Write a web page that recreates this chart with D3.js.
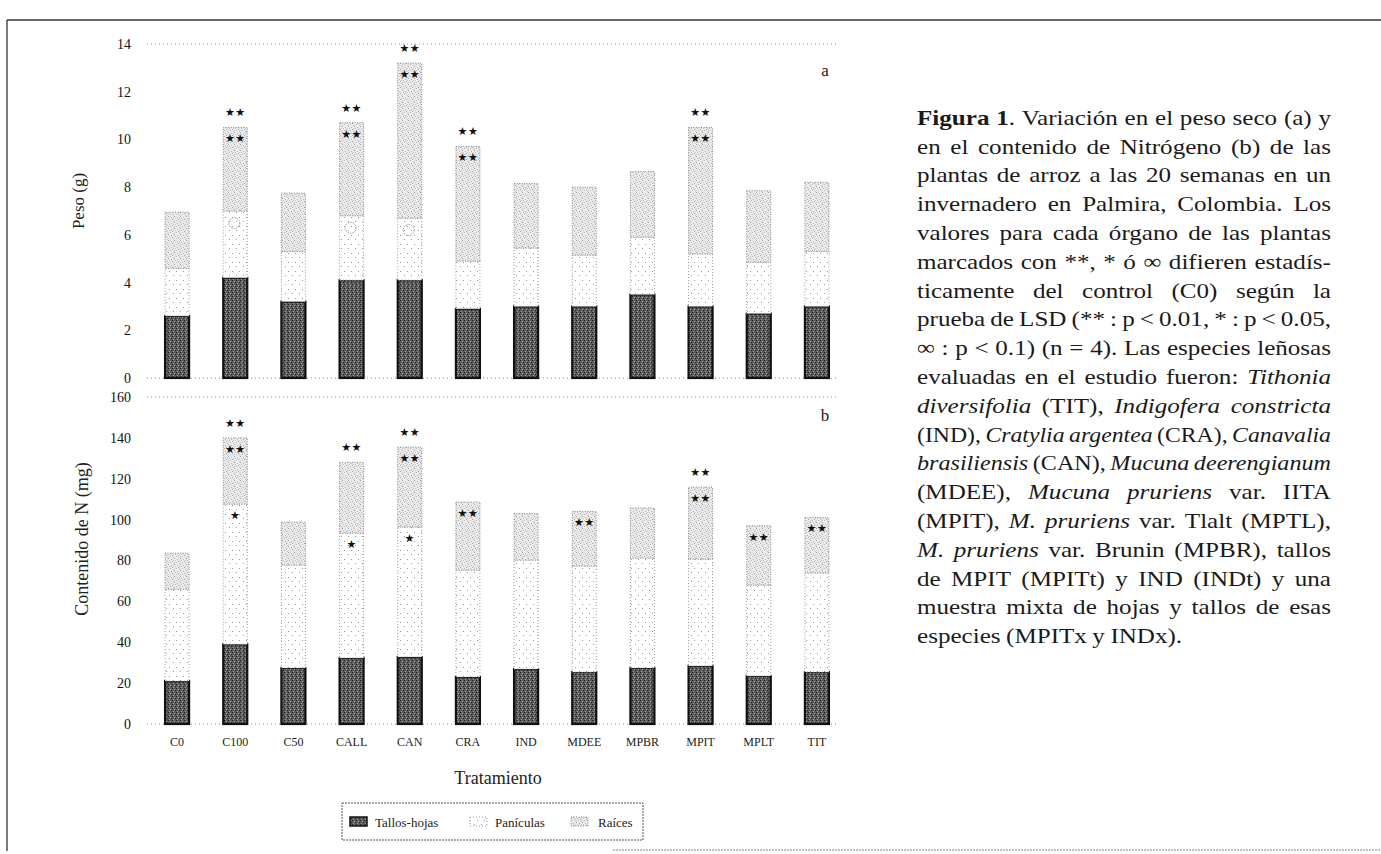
<!DOCTYPE html>
<html><head><meta charset="utf-8">
<script src="https://cdn.jsdelivr.net/npm/d3@7"></script>
<style>
html,body{margin:0;padding:0;background:#fff;}
svg{display:block;}
</style></head>
<body>
<svg id="chart" width="1381" height="854"></svg>
<script>
// ---------------- DATA ----------------
const categories = ["C0","C100","C50","CALL","CAN","CRA","IND","MDEE","MPBR","MPIT","MPLT","TIT"];
const seriesNames = ["Tallos-hojas","Panículas","Raíces"];
// (a) Peso seco (g)
const pesoTallos  = [2.6, 4.2, 3.2, 4.1, 4.1, 2.9, 3.0, 3.0, 3.5, 3.0, 2.7, 3.0];
const pesoPanic   = [2.0, 2.8, 2.1, 2.7, 2.6, 2.0, 2.45, 2.15, 2.4, 2.2, 2.15, 2.3];
const pesoRaices  = [2.35, 3.5, 2.45, 3.9, 6.5, 4.8, 2.7, 2.85, 2.75, 5.3, 3.0, 2.9];
// (b) Contenido de N (mg)
const nTallos  = [21, 39, 27.4, 32.3, 32.8, 23, 26.9, 25.4, 27.4, 28.4, 23.5, 25.4];
const nPanic   = [45, 68.6, 50.4, 61.1, 63.6, 52.3, 53.3, 51.9, 53.8, 52.3, 44.5, 48.5];
const nRaices  = [17.6, 32.4, 21, 34.6, 39.1, 33.3, 22.8, 26.7, 24.5, 35.2, 29, 27.1];
const pesoTicks = [0,2,4,6,8,10,12,14];
const nTicks = [0,20,40,60,80,100,120,140,160];
// significance marks: [category, position ("top" or segment index), symbol]
const pesoMarks = [
  ["C100","top","★★"],["C100",2,"★★"],["C100",1,"∞"],
  ["CALL","top","★★"],["CALL",2,"★★"],["CALL",1,"∞"],
  ["CAN","top","★★"],["CAN",2,"★★"],["CAN",1,"∞"],
  ["CRA","top","★★"],["CRA",2,"★★"],
  ["MPIT","top","★★"],["MPIT",2,"★★"]
];
const nMarks = [
  ["C100","top","★★"],["C100",2,"★★"],["C100",1,"★"],
  ["CALL","top","★★"],["CALL",1,"★"],
  ["CAN","top","★★"],["CAN",2,"★★"],["CAN",1,"★"],
  ["CRA",2,"★★"],["MDEE",2,"★★"],
  ["MPIT","top","★★"],["MPIT",2,"★★"],
  ["MPLT",2,"★★"],["TIT",2,"★★"]
];
const captionLines = [
  "{b}Figura 1{/b}. Variación en el peso seco (a) y",
  "en el contenido de Nitrógeno (b) de las",
  "plantas de arroz a las 20 semanas en un",
  "invernadero en Palmira, Colombia. Los",
  "valores para cada órgano de las plantas",
  "marcados con **, * ó ∞ difieren estadís-",
  "ticamente del control (C0) según la",
  "prueba de LSD (** : p < 0.01, * : p < 0.05,",
  "∞ : p < 0.1) (n = 4). Las especies leñosas",
  "evaluadas en el estudio fueron: {i}Tithonia{/i}",
  "{i}diversifolia{/i} (TIT), {i}Indigofera constricta{/i}",
  "(IND), {i}Cratylia argentea{/i} (CRA), {i}Canavalia{/i}",
  "{i}brasiliensis{/i} (CAN), {i}Mucuna deerengianum{/i}",
  "(MDEE), {i}Mucuna pruriens{/i} var. IITA",
  "(MPIT), {i}M. pruriens{/i} var. Tlalt (MPTL),",
  "{i}M. pruriens{/i} var. Brunin (MPBR), tallos",
  "de MPIT (MPITt) y IND (INDt) y una",
  "muestra mixta de hojas y tallos de esas",
  "especies (MPITx y INDx)."
];

// ---------------- DRAW ----------------
const svg = d3.select("#chart");
const serif = "'Liberation Serif','Times New Roman',serif";

const defs = svg.append("defs");
const pDark = defs.append("pattern").attr("id","pDark").attr("patternUnits","userSpaceOnUse").attr("width",4).attr("height",4);
pDark.append("rect").attr("width",4).attr("height",4).attr("fill","#5a5a5a");
[[0,0,"#222"],[2,1,"#b0b0b0"],[1,3,"#999"],[3,2,"#2a2a2a"]].forEach(d=>pDark.append("rect").attr("x",d[0]).attr("y",d[1]).attr("width",1).attr("height",1).attr("fill",d[2]));
const pMid = defs.append("pattern").attr("id","pMid").attr("patternUnits","userSpaceOnUse").attr("width",7).attr("height",9);
pMid.append("rect").attr("width",7).attr("height",9).attr("fill","#fff");
[[1,1],[5,5]].forEach(d=>pMid.append("rect").attr("x",d[0]).attr("y",d[1]).attr("width",1).attr("height",1).attr("fill","#999"));
const pLight = defs.append("pattern").attr("id","pLight").attr("patternUnits","userSpaceOnUse").attr("width",6).attr("height",6);
pLight.append("rect").attr("width",6).attr("height",6).attr("fill","#ececec");
[[0,0,"#a0a0a0"],[3,1,"#b0b0b0"],[1,2,"#c0c0c0"],[4,3,"#a5a5a5"],[2,4,"#b8b8b8"],[5,5,"#c4c4c4"],[0,4,"#d0d0d0"],[5,2,"#cfcfcf"]]
  .forEach(d=>pLight.append("rect").attr("x",d[0]).attr("y",d[1]).attr("width",1).attr("height",1).attr("fill",d[2]));

const fills = ["url(#pDark)","url(#pMid)","url(#pLight)"];
const strokes = ["#111","#999","#888"];
const strokeW = [2.2,1,1];
const dashes = [null,"1,2","1,1.5"];

svg.append("line").attr("x1",7).attr("x2",1381).attr("y1",20).attr("y2",20).attr("stroke","#333").attr("stroke-width",1.3);
svg.append("line").attr("x1",7).attr("x2",7).attr("y1",20).attr("y2",851).attr("stroke","#333").attr("stroke-width",1.3);
svg.append("line").attr("x1",613).attr("x2",1381).attr("y1",850).attr("y2",850).attr("stroke","#888").attr("stroke-width",1).attr("stroke-dasharray","2,1");

const x = d3.scaleBand().domain(categories).range([148,846]).paddingInner(0.587).paddingOuter(0.2935);

function panel(opts){
  const {tallos,panic,raices,ticks,max,y0,y1,marks,letter,letterY,title,titleX,titleY,titleSize} = opts;
  const y = d3.scaleLinear().domain([0,max]).range([y0,y1]);
  const g = svg.append("g");
  [0,max].forEach(v=>{
    g.append("line").attr("x1",147).attr("x2",838).attr("y1",y(v)).attr("y2",y(v))
      .attr("stroke","#888").attr("stroke-width",1).attr("stroke-dasharray","1,3");
  });
  const ax = g.append("g").attr("transform","translate(138,0)")
    .call(d3.axisLeft(y).tickValues(ticks).tickSize(0).tickPadding(7));
  ax.select(".domain").remove();
  ax.selectAll("text").attr("font-family",serif).attr("font-size",14).attr("fill","#111");
  const rows = categories.map((c,i)=>({cat:c,vals:[tallos[i],panic[i],raices[i]]}));
  const stack = d3.stack().keys([0,1,2]).value((d,k)=>d.vals[k]);
  const layers = stack(rows);
  layers.forEach((layer,k)=>{
    g.selectAll(null).data(layer).enter().append("rect")
      .attr("x",d=>x(d.data.cat)).attr("width",x.bandwidth())
      .attr("y",d=>y(d[1])).attr("height",d=>y(d[0])-y(d[1]))
      .attr("fill",fills[k]).attr("stroke",strokes[k]).attr("stroke-width",strokeW[k])
      .attr("stroke-dasharray",dashes[k]);
  });
  marks.forEach(m=>{
    const i = categories.indexOf(m[0]);
    const row = rows[i];
    const cx = x(m[0]) + x.bandwidth()/2;
    let cy;
    if(m[1]==="top"){ cy = y(d3.sum(row.vals)) - 15; }
    else { cy = y(d3.sum(row.vals.slice(0,m[1]+1))) + 11; }
    if(m[2]==="∞"){
      g.append("circle").attr("cx",cx-1).attr("cy",cy+1).attr("r",5.5).attr("fill","none")
        .attr("stroke","#999").attr("stroke-width",1).attr("stroke-dasharray","1.5,1");
    } else {
      g.append("text").attr("x",cx).attr("y",cy).attr("dy","0.35em").attr("text-anchor","middle")
        .attr("font-family","'DejaVu Sans',sans-serif").attr("font-size",11)
        .attr("letter-spacing",0.5).attr("fill","#111").text(m[2]);
    }
  });
  g.append("text").attr("x",825).attr("y",letterY).attr("dy","0.35em").attr("text-anchor","middle")
    .attr("font-family",serif).attr("font-size",17).attr("fill","#222").text(letter);
  g.append("text").attr("transform",`translate(${titleX},${titleY}) rotate(-90)`).attr("text-anchor","middle")
    .attr("dy","0.35em").attr("font-family",serif).attr("font-size",titleSize).attr("fill","#222").text(title);
  return y;
}

panel({tallos:pesoTallos,panic:pesoPanic,raices:pesoRaices,ticks:pesoTicks,max:14,y0:378,y1:44,
  marks:pesoMarks,letter:"a",letterY:70,title:"Peso (g)",titleX:78,titleY:201,titleSize:17});
panel({tallos:nTallos,panic:nPanic,raices:nRaices,ticks:nTicks,max:160,y0:724,y1:397,
  marks:nMarks,letter:"b",letterY:415,title:"Contenido de N (mg)",titleX:82,titleY:539,titleSize:18});

svg.append("g").selectAll("text").data(categories).enter().append("text")
  .attr("x",d=>x(d)+x.bandwidth()/2).attr("y",742).attr("dy","0.35em").attr("text-anchor","middle")
  .attr("font-family",serif).attr("font-size",12).attr("fill","#222").text(d=>d);
svg.append("text").attr("x",498).attr("y",778).attr("dy","0.35em").attr("text-anchor","middle")
  .attr("font-family",serif).attr("font-size",18).attr("fill","#222").text("Tratamiento");

const lg = svg.append("g");
lg.append("rect").attr("x",342).attr("y",803).attr("width",301).attr("height",37).attr("fill","#fff")
  .attr("stroke","#555").attr("stroke-width",1).attr("stroke-dasharray","2,1");
const legX = [[350,375],[470,495],[571,598]];
seriesNames.forEach((s,k)=>{
  lg.append("rect").attr("x",legX[k][0]).attr("y",817).attr("width",17).attr("height",9)
    .attr("fill",fills[k]).attr("stroke",strokes[k]).attr("stroke-width",k===0?1.5:1).attr("stroke-dasharray",dashes[k]);
  lg.append("text").attr("x",legX[k][1]).attr("y",822).attr("dy","0.35em")
    .attr("font-family",serif).attr("font-size",13).attr("fill","#222").text(s);
});

// caption (justified, horizontally widened serif like the scanned type)
const capX0 = 917, capX1 = 1331, capY0 = 117, capDy = 28.8, capSize = 22, capK = 1.14;
function parse(line){
  const runs=[]; let style='n'; const re=/\{(\/?)([bi])\}/g; let last=0, m;
  while((m=re.exec(line))){ if(m.index>last) runs.push({t:line.slice(last,m.index),s:style}); style=m[1]?'n':m[2]; last=re.lastIndex; }
  if(last<line.length) runs.push({t:line.slice(last),s:style});
  const words=[[]];
  runs.forEach(r=>{ r.t.split(' ').forEach((p,i)=>{ if(i>0) words.push([]); if(p) words[words.length-1].push({t:p,s:r.s}); }); });
  return words.filter(w=>w.length);
}
const cap = svg.append("g").attr("font-family",serif).attr("font-size",capSize).attr("fill","#1a1a1a");
const W = capX1-capX0;
captionLines.forEach((line,li)=>{
  const words = parse(line);
  const y = capY0 + li*capDy;
  const els = words.map(w=>{
    const t = cap.append("text").attr("x",0).attr("y",0).attr("dy","0.35em");
    w.forEach(r=>{
      const ts = t.append("tspan").text(r.t);
      if(r.s==='b') ts.attr("font-weight","bold");
      if(r.s==='i') ts.attr("font-style","italic");
    });
    return t;
  });
  const raw = els.map(e=>e.node().getComputedTextLength());
  const last = li===captionLines.length-1;
  const n = els.length;
  let k = capK;
  const minGap = 4.5;
  if(!last && d3.sum(raw)*k + minGap*(n-1) > W){ k = (W - minGap*(n-1))/d3.sum(raw); }
  const widths = raw.map(w=>w*k);
  const total = d3.sum(widths);
  const gap = (last || n<2) ? 5.5 : (W-total)/(n-1);
  let cx = capX0;
  els.forEach((e,i)=>{
    e.attr("transform",`translate(${cx},${y}) scale(${k},1)`);
    cx += widths[i]+gap;
  });
});
</script>
</body></html>
